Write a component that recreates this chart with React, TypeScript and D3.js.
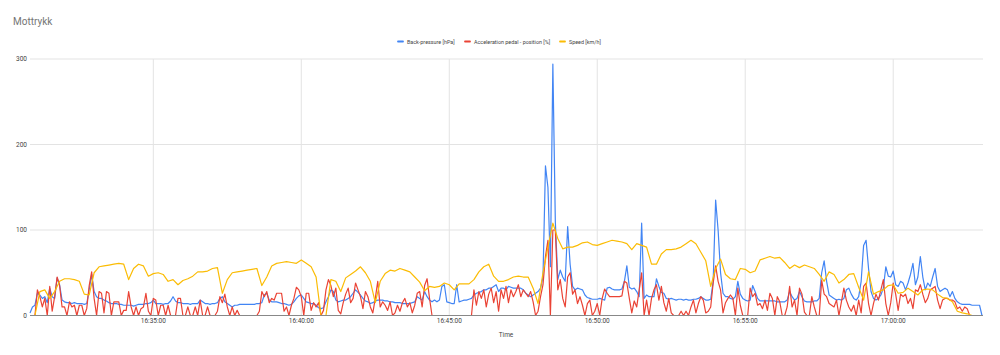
import React from "react";
import * as d3 from "d3";

// ---- data ----
const startTime = new Date(2000, 0, 1, 16, 30, 50);
const fineStepSec = 5; // back-pressure and pedal sample step
const coarseStepSec = 10; // speed sample step

const seriesNames = ["Back-pressure [hPa]", "Acceleration pedal - position [%]", "Speed [km/h]"];
const yTicks = [0, 100, 200, 300];

const backPressure = [
  3,10,12,26,24,20,22,15,32,22,
  20,44,36,18,16,15,15,14,15,14,
  14,14,13,14,30,48,28,22,20,20,
  18,17,15,14,14,14,13,13,12,12,
  12,12,11,12,13,13,13,14,14,15,
  18,14,14,14,13,14,14,17,22,17,
  15,15,14,14,14,13,14,14,14,18,
  16,14,14,13,14,14,15,20,22,16,
  14,12,10,12,12,13,13,13,13,13,
  13,13,14,14,15,24,26,18,16,16,
  16,15,14,14,13,12,13,16,20,23,
  24,20,16,15,14,14,12,9,8,9,
  16,22,30,28,18,16,17,18,18,20,
  22,26,30,27,24,20,17,16,14,15,
  17,18,18,18,17,17,16,16,15,15,
  15,14,14,14,14,15,16,22,20,18,
  28,22,18,16,18,16,18,34,36,16,
  15,14,14,36,16,17,18,18,19,20,
  24,26,27,28,30,30,32,32,34,36,
  28,32,32,30,34,33,32,32,32,32,
  30,26,24,22,24,26,28,32,45,175,
  150,57,294,110,42,53,45,40,104,60,
  34,30,32,31,30,24,21,20,19,19,
  19,20,19,18,32,33,31,30,30,30,
  31,40,58,33,31,32,28,22,108,20,
  24,22,22,22,43,34,27,26,20,19,
  20,19,18,19,19,18,19,18,18,19,
  19,20,22,20,18,18,19,40,135,100,
  50,26,22,22,20,19,22,40,25,20,
  18,17,18,35,28,20,17,17,17,17,
  17,17,17,16,16,16,16,18,28,22,
  18,20,28,22,17,16,16,16,17,17,
  20,50,64,40,24,22,20,18,19,18,
  20,30,32,25,20,18,22,40,82,88,
  55,28,20,18,20,24,32,57,46,45,
  52,36,34,40,38,30,38,48,61,36,
  45,69,45,30,38,34,45,55,34,28,
  30,32,30,22,28,20,16,14,13,13,
  13,13,12,12,12,12,0
];

const pedalPosition = [
  0,0,0,30,22,10,20,0,34,5,
  22,45,35,10,10,0,16,10,12,0,
  12,12,0,8,35,51,20,0,28,26,
  3,28,26,0,16,16,16,0,6,6,
  28,10,0,10,0,8,10,26,5,0,
  20,18,0,12,12,0,12,0,0,0,
  20,20,0,0,10,0,0,10,0,18,
  0,0,10,0,0,0,5,22,15,25,
  10,0,10,0,6,0,0,0,0,0,
  0,0,0,5,28,22,28,15,20,18,
  26,26,26,5,10,0,12,20,33,30,
  22,0,26,26,6,15,10,15,0,6,
  30,42,35,22,32,6,2,15,25,32,
  15,20,38,30,22,8,28,22,10,3,
  20,40,10,16,12,6,16,0,3,12,
  5,15,20,10,15,3,12,26,28,10,
  35,43,20,0,0,0,0,0,0,0,
  0,0,0,0,0,0,0,0,0,0,
  30,12,28,20,30,10,25,32,15,28,
  5,30,20,34,15,30,22,28,36,22,
  30,26,22,28,16,0,5,22,36,69,
  88,0,100,100,30,42,20,10,45,50,
  25,30,14,22,12,0,14,18,0,5,
  14,0,20,31,26,22,22,22,22,22,
  23,40,38,20,3,17,10,30,50,0,
  18,0,20,30,36,18,34,15,5,20,
  3,0,0,0,5,0,5,0,10,18,
  3,14,22,18,3,5,10,38,58,40,
  30,3,15,20,24,20,0,32,12,0,
  0,0,32,22,26,12,14,8,18,6,
  26,20,0,22,16,0,0,10,34,10,
  18,0,32,25,4,0,0,22,10,0,
  0,41,25,22,14,12,10,18,0,16,
  32,18,10,5,12,0,18,3,34,38,
  14,0,14,25,18,30,42,14,0,15,
  38,25,6,25,22,25,14,20,8,30,
  28,36,25,15,20,30,32,34,18,8,
  18,20,20,18,18,16,8,10,5,10,
  8,0,0,0,0,0,0
];

const speed = [
  0,0,28,30,20,28,40,43,43,42,
  40,25,24,50,57,58,59,60,61,60,
  42,55,60,58,46,49,50,48,40,42,
  36,41,43,46,51,51,52,55,56,26,
  42,50,51,52,53,54,55,35,45,58,
  61,62,63,62,61,65,61,57,45,0,
  0,42,40,28,44,48,52,57,50,40,
  15,40,49,53,52,55,53,51,45,39,
  29,34,33,34,38,36,30,37,37,37,
  42,51,57,60,46,40,40,42,45,46,
  45,45,32,14,50,80,108,90,78,80,
  80,82,85,86,83,82,84,86,88,87,
  86,84,77,84,82,80,60,60,72,77,
  77,78,80,84,88,84,74,64,34,55,
  66,48,43,42,55,54,50,52,65,67,
  69,67,68,62,55,59,56,59,57,55,
  48,40,51,48,38,42,48,49,33,18,
  51,25,28,30,35,36,26,27,32,28,
  24,30,31,30,25,21,20,16,5,3,
  2,0,0,0
];

const colors = ["#4285F4", "#EA4335", "#FBBC04"];

// ---- layout ----
const W = 1000;
const H = 355;
const left = 30;
const right = 982;
const top = 59;
const bottom = 315.5;

const toPoints = (vals: number[], step: number) =>
  vals.map((v, i) => ({ t: new Date(startTime.getTime() + i * step * 1000), v }));

export default function App() {
  const series = [
    toPoints(backPressure, fineStepSec),
    toPoints(pedalPosition, fineStepSec),
    toPoints(speed, coarseStepSec),
  ];
  const endTime = new Date(startTime.getTime() + (backPressure.length - 1) * fineStepSec * 1000);
  const x = d3.scaleTime().domain([startTime, endTime]).range([left, right]);
  const y = d3.scaleLinear().domain([0, 300]).range([bottom, top]);
  const xTicks = x.ticks(d3.timeMinute.every(5) as any);
  const fmt = d3.timeFormat("%H:%M:%S");
  const line = d3
    .line<{ t: Date; v: number }>()
    .x((d) => x(d.t))
    .y((d) => y(d.v));

  const legendX = [398, 465, 560];
  const font = "Roboto, Arial, sans-serif";

  return (
    <svg
      width={W}
      height={H}
      style={{ position: "absolute", left: 0, top: 0, background: "#fff" }}
      fontFamily={font}
    >
      <rect x={0} y={0} width={W} height={H} fill="#fff" />
      <text x={13} y={25} fontSize={10} fill="#757575">
        Mottrykk
      </text>
      {/* legend */}
      {seriesNames.map((n, i) => (
        <g key={n}>
          <line
            x1={legendX[i]}
            x2={legendX[i] + 5}
            y1={41.5}
            y2={41.5}
            stroke={colors[i]}
            strokeWidth={1.8}
            strokeLinecap="round"
          />
          <text x={legendX[i] + 9} y={43.5} fontSize={5.4} fill="#444">
            {n}
          </text>
        </g>
      ))}
      {/* grid */}
      {yTicks.map((t) => (
        <g key={"y" + t}>
          {t !== 0 && (
            <line x1={left} x2={right + 1} y1={y(t)} y2={y(t)} stroke="#e3e3e3" strokeWidth={1} />
          )}
          <text x={27} y={y(t) + 2} fontSize={6.5} fill="#444" textAnchor="end">
            {t}
          </text>
        </g>
      ))}
      {xTicks.map((t) => (
        <g key={"x" + t.getTime()}>
          <line x1={x(t)} x2={x(t)} y1={top} y2={bottom} stroke="#e3e3e3" strokeWidth={1} />
          <text x={x(t)} y={323} fontSize={6.5} fill="#444" textAnchor="middle">
            {fmt(t)}
          </text>
        </g>
      ))}
      {/* series */}
      {series.map((s, i) => (
        <path
          key={i}
          d={line(s) || ""}
          fill="none"
          stroke={colors[i]}
          strokeWidth={1.2}
          strokeLinejoin="round"
        />
      ))}
      <line x1={left} x2={right + 1} y1={bottom} y2={bottom} stroke="#888" strokeWidth={1} />
      <text x={506} y={337} fontSize={6.5} fill="#444" textAnchor="middle">
        Time
      </text>
    </svg>
  );
}
